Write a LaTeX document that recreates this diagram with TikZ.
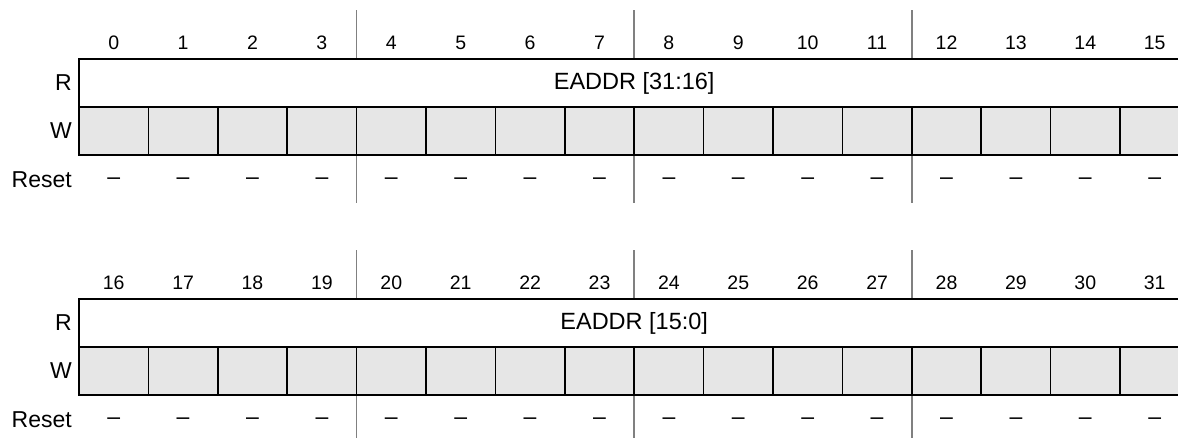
\documentclass[tikz,border=0pt]{standalone}
\usepackage{fontspec}
\setmainfont{Liberation Sans}
\definecolor{regline}{HTML}{000000}
\definecolor{regsep}{HTML}{808080}
\definecolor{regfill}{HTML}{E6E6E6}
\tikzset{
  bitnum/.style={font=\fontsize{19.5}{22}\selectfont,inner sep=0pt},
  rowlab/.style={font=\fontsize{23}{26}\selectfont,inner sep=0pt,anchor=east},
  rbox/.style={rectangle,draw=regline,fill=white,line width=1.5pt,minimum width=1110.4pt,minimum height=48pt,inner sep=0pt,font=\fontsize{23.5}{26}\selectfont},
  wcell/.style={rectangle,draw=regline,fill=regfill,line width=1.5pt,minimum width=69.4pt,minimum height=48pt,inner sep=0pt},
  rstval/.style={font=\fontsize{23}{26}\selectfont,inner sep=0pt},
  bytesep/.style={draw=regsep,line width=1.6pt},
}

\begin{document}
\begin{tikzpicture}[x=1pt,y=-1pt]
  \useasboundingbox (0,0) rectangle (1178,437);
  \clip (0,0) rectangle (1178,437);
  \foreach \b/\hi/\lo in {0/31/16,1/15/0} {
    % byte separators
    \foreach \k in {4,8,12} {
      \draw[bytesep] ({79+\k*69.4},{10+240*\b}) -- ({79+\k*69.4},{203+240*\b});
    }
    \node[rbox] (r\b) at (634.2,{83+240*\b}) {EADDR [\hi:\lo]};
    \node[rowlab] (lr\b) at (72,{83+240*\b}) {R};
    \node[rowlab] (lw\b) at (72,{131+240*\b}) {W};
    \node[rowlab] (lx\b) at (72,{180+240*\b}) {Reset};
    \foreach \i in {0,...,15} {
      \pgfmathtruncatemacro\bit{\i+16*\b}
      \node[bitnum] (n\bit) at ({79+(\i+.5)*69.4},{43+240*\b}) {\bit};
      \node[wcell] (w\bit) at ({79+(\i+.5)*69.4},{131+240*\b}) {};
      \node[rstval] (x\bit) at ({79+(\i+.5)*69.4},{181+240*\b}) {--};
    }
  }
\end{tikzpicture}
\end{document}
